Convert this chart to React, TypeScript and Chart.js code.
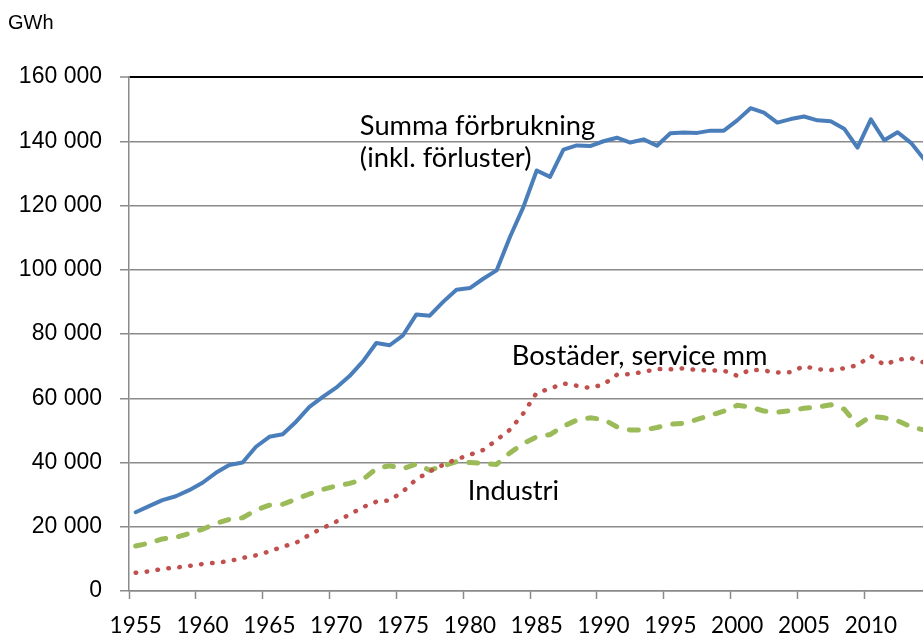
import React, { useEffect, useRef } from "react";
import { Chart, registerables } from "chart.js";

Chart.register(...registerables);

const years = [
  1955, 1956, 1957, 1958, 1959, 1960, 1961, 1962, 1963, 1964,
  1965, 1966, 1967, 1968, 1969, 1970, 1971, 1972, 1973, 1974,
  1975, 1976, 1977, 1978, 1979, 1980, 1981, 1982, 1983, 1984,
  1985, 1986, 1987, 1988, 1989, 1990, 1991, 1992, 1993, 1994,
  1995, 1996, 1997, 1998, 1999, 2000, 2001, 2002, 2003, 2004,
  2005, 2006, 2007, 2008, 2009, 2010, 2011, 2012, 2013, 2014,
];

const summa = [
  24500, 26400, 28300, 29500, 31400, 33700, 36800, 39200, 40000, 44900,
  48000, 48800, 52700, 57300, 60400, 63300, 66900, 71500, 77200, 76500,
  79600, 86100, 85700, 90000, 93800, 94300, 97200, 99800, 110200, 119500,
  130900, 128900, 137400, 138700, 138500, 140000, 141100, 139600, 140600, 138600,
  142500, 142700, 142600, 143300, 143300, 146500, 150300, 148900, 145800, 146900,
  147700, 146500, 146200, 143900, 138000, 146800, 140300, 142800, 139500, 134300,
];

const bostader = [
  5700, 6100, 6900, 7300, 7800, 8400, 8800, 9300, 10300, 11100,
  12300, 13800, 15000, 17500, 19600, 21600, 23800, 26100, 27800, 28200,
  31000, 34800, 37200, 39300, 41000, 42400, 43900, 47000, 50200, 55300,
  61700, 63000, 64600, 63900, 63200, 64300, 67300, 67500, 68200, 69100,
  69000, 69300, 68800, 68600, 68600, 67000, 68900, 68600, 68000, 68100,
  70000, 69000, 68800, 69300, 70300, 73200, 70400, 72000, 72500, 71100,
];

const industri = [
  14000, 14900, 16200, 16700, 17900, 19200, 21000, 22300, 22800, 25200,
  26700, 27000, 28600, 30200, 31600, 32700, 33500, 34700, 38100, 39000,
  38100, 39500, 37600, 38900, 40300, 40000, 39700, 39400, 43000, 45900,
  48000, 48700, 51300, 53200, 53900, 53400, 51100, 50100, 50100, 50900,
  51900, 52200, 53400, 54700, 56000, 57800, 57300, 56000, 55700, 56100,
  56900, 57200, 58000, 56600, 51600, 54400, 53900, 53000, 51100, 50100,
];

const xTickYears = [1955, 1960, 1965, 1970, 1975, 1980, 1985, 1990, 1995, 2000, 2005, 2010];
const yTicks = [0, 20000, 40000, 60000, 80000, 100000, 120000, 140000, 160000];

const unitLabel = "GWh";
const annotations = [
  { text: "Summa förbrukning", year: 1971.77, value: 141900 },
  { text: "(inkl. förluster)", year: 1971.77, value: 132100 },
  { text: "Bostäder, service mm", year: 1983.13, value: 70350 },
  { text: "Industri", year: 1979.84, value: 28330 },
];

const fmt = (v: number) => String(v).replace(/\B(?=(\d{3})+(?!\d))/g, " ");

const GRID = "#8a8a8a";

export default function App() {
  const ref = useRef<HTMLCanvasElement | null>(null);

  useEffect(() => {
    const canvas = ref.current;
    if (!canvas) return;

    const textPlugin = {
      id: "texts",
      afterDatasetsDraw(chart: any) {
        const { ctx, scales } = chart;
        ctx.save();
        ctx.fillStyle = "#000";
        ctx.textAlign = "left";
        ctx.textBaseline = "alphabetic";
        ctx.font = "27.3px Lato";
        for (const a of annotations) {
          const x = scales.x.getPixelForValue(a.year);
          const y = scales.y.getPixelForValue(a.value);
          ctx.fillText(a.text, x, y);
        }
        ctx.font = "20px 'Liberation Sans'";
        ctx.fillText(unitLabel, 8, 29);
        ctx.restore();
      },
    };

    const mk = (arr: number[]) => years.map((y, i) => ({ x: y, y: arr[i] }));

    const chart = new Chart(canvas, {
      type: "line",
      data: {
        datasets: [
          {
            label: "Summa förbrukning (inkl. förluster)",
            data: mk(summa),
            borderColor: "#4A7EBB",
            borderWidth: 4,
            pointRadius: 0,
            tension: 0,
            borderJoinStyle: "round",
            borderCapStyle: "round",
          },
          {
            label: "Bostäder, service mm",
            data: mk(bostader),
            borderColor: "#C0504D",
            borderWidth: 4.5,
            pointRadius: 0,
            tension: 0,
            borderCapStyle: "round",
            borderDash: [0.5, 10.5],
          },
          {
            label: "Industri",
            data: mk(industri),
            borderColor: "#9BBB59",
            borderWidth: 5,
            pointRadius: 0,
            tension: 0,
            borderCapStyle: "round",
            borderJoinStyle: "round",
            borderDash: [9, 13],
          },
        ],
      },
      options: {
        animation: false,
        responsive: false,
        devicePixelRatio: 1,
        layout: { padding: { top: 77, left: 0, right: 0, bottom: 0 } },
        plugins: {
          legend: { display: false },
          tooltip: { enabled: false },
        },
        scales: {
          x: {
            type: "linear",
            bounds: "data",
            min: 1954.5,
            max: 2013.9,
            afterBuildTicks: (scale: any) => {
              scale.ticks = xTickYears.map((v) => ({ value: v - 0.5 }));
            },
            afterFit: (scale: any) => {
              scale.height = 46;
            },
            grid: {
              drawOnChartArea: false,
              drawTicks: true,
              tickLength: 8,
              color: GRID,
              tickWidth: 1.5,
            },
            border: { display: true, color: GRID, width: 1.5 },
            ticks: {
              autoSkip: false,
              maxRotation: 0,
              padding: 13,
              labelOffset: 6.7,
              color: "#000",
              font: { family: "Lato", size: 22.5 },
              callback: (v: any) => String(Math.round(Number(v) + 0.5)),
            },
          },
          y: {
            min: 0,
            max: 160000,
            afterBuildTicks: (scale: any) => {
              scale.ticks = yTicks.map((v) => ({ value: v }));
            },
            afterFit: (scale: any) => {
              scale.width = 129;
            },
            grid: {
              color: (c: any) => (c.tick && c.tick.value === 160000 ? "#000" : GRID),
              lineWidth: (c: any) => (c.tick && c.tick.value === 160000 ? 2 : 1.5),
              tickColor: GRID,
              tickWidth: 1.5,
              tickLength: 9,
            },
            border: { display: true, color: GRID, width: 1.5 },
            ticks: {
              padding: 18,
              color: "#000",
              font: { family: "'Liberation Sans'", size: 23 },
              callback: (v: any) => fmt(Number(v)),
            },
          },
        },
      },
      plugins: [textPlugin],
    });

    return () => chart.destroy();
  }, []);

  return (
    <div style={{ position: "absolute", left: 0, top: 0, width: 923, height: 637, background: "#fff" }}>
      <canvas ref={ref} width={923} height={637} style={{ display: "block", width: 923, height: 637 }} />
    </div>
  );
}
